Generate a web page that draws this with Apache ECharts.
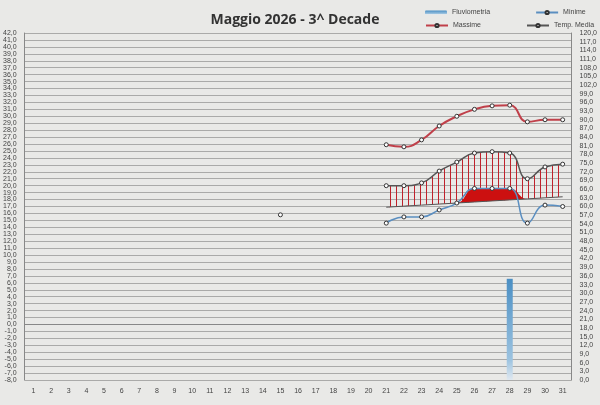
<!DOCTYPE html><html><head><meta charset="utf-8">
<script src="https://cdn.jsdelivr.net/npm/echarts@6/dist/echarts.min.js"></script>
<style>html,body{margin:0;background:#e9e9e7}#c{width:600px;height:405px}</style></head><body><div id="c"></div>
<script>
const days = Array.from({length:31},(_,i)=>String(i+1));
const N=null;
const massime = [N,N,N,N,N,N,N,N,N,N,N,N,N,N,N,N,N,N,N,N,25.9,25.6,26.6,28.6,30.0,31.0,31.5,31.6,29.2,29.5,29.5];
const media   = [N,N,N,N,N,N,N,N,N,N,N,N,N,N,15.8,N,N,N,N,N,20.0,20.0,20.4,22.1,23.4,24.7,24.9,24.7,21.0,22.7,23.1];
const minime  = [N,N,N,N,N,N,N,N,N,N,N,N,N,N,N,N,N,N,N,N,14.6,15.5,15.5,16.5,17.5,19.6,19.6,19.6,14.6,17.2,17.0];
const baseline= [N,N,N,N,N,N,N,N,N,N,N,N,N,N,N,N,N,N,N,N,16.9,17.05,17.2,17.35,17.5,17.65,17.8,17.95,18.1,18.25,18.4];
const pioggia = [N,N,N,N,N,N,N,N,N,N,N,N,N,N,N,N,N,N,N,N,N,N,N,N,N,N,N,35,N,N,N];
const hatch = media.map((v,i)=> i>=20 && v!=null && baseline[i]!=null ? +(v-baseline[i]).toFixed(2) : N);
const redFill = minime.map((v,i)=> baseline[i]!=null ? Math.max(0,+(v-baseline[i]).toFixed(2)) : N);
const cv = document.createElement('canvas'); cv.width=6; cv.height=2;
const cx = cv.getContext('2d'); cx.fillStyle='#c0202a'; cx.fillRect(0,0,1,2);
const mk = {symbol:'circle',symbolSize:4,itemStyle:{color:'#fff',borderColor:'#333',borderWidth:1}};
const lg = {itemGap:45,itemWidth:22,itemHeight:4,textStyle:{fontSize:7,color:'#444'}};
const chart = echarts.init(document.getElementById('c'));
chart.setOption({
  backgroundColor:'#e9e9e7',
  title:{text:'Maggio 2026 - 3^ Decade',left:290,top:8,textAlign:'center',textStyle:{fontSize:14,fontWeight:'bold',color:'#333',fontFamily:'Open Sans'}},
  legend:[Object.assign({left:420,top:4,data:['Fluviometria','Minime']},lg),
          Object.assign({left:420,top:17,data:['Massime','Temp. Media']},lg)],
  grid:{left:20,right:28,top:33,bottom:25},
  xAxis:{type:'category',data:days,boundaryGap:true,axisLine:{lineStyle:{color:'#888'}},axisTick:{show:false},
    axisLabel:{fontSize:7,color:'#444'},splitLine:{show:false}},
  yAxis:[
    {type:'value',min:-8,max:42,interval:1,position:'left',axisLabel:{fontSize:7,color:'#444',formatter:v=>v.toFixed(1).replace('.',',')},
     axisLine:{show:true,lineStyle:{color:'#888'}},splitLine:{lineStyle:{color:'#999',width:0.8}}},
    {type:'value',min:0,max:120,interval:3,position:'right',axisLabel:{fontSize:7,color:'#444',formatter:v=>v.toFixed(1).replace('.',',')},
     axisLine:{show:true,lineStyle:{color:'#888'}},splitLine:{show:false}}
  ],
  series:[
    {name:'Fluviometria',type:'bar',yAxisIndex:1,data:pioggia,barWidth:6,
     itemStyle:{color:new echarts.graphic.LinearGradient(0,0,0,1,[{offset:0,color:'#4a8fc4'},{offset:0.8,color:'#9cc3e0'},{offset:1,color:'#e0e8f0'}])}},
    {name:'base1',type:'line',stack:'h',data:baseline,symbol:'none',lineStyle:{color:'#555',width:1},silent:true},
    {name:'hatch',type:'line',stack:'h',data:hatch,smooth:true,symbol:'none',lineStyle:{width:0},silent:true,
     areaStyle:{color:{image:cv,repeat:'repeat'},opacity:1}},
    {name:'base2',type:'line',stack:'r',data:baseline,symbol:'none',lineStyle:{width:0},silent:true},
    {name:'red',type:'line',stack:'r',data:redFill,smooth:true,symbol:'none',lineStyle:{width:0},silent:true,areaStyle:{color:'#cc1010',opacity:1}},
    Object.assign({name:'Minime',type:'line',data:minime,smooth:true,lineStyle:{color:'#5a8ec0',width:1.5}},mk),
    Object.assign({name:'Massime',type:'line',data:massime,smooth:true,lineStyle:{color:'#c0404a',width:2}},mk),
    Object.assign({name:'Temp. Media',type:'line',data:media,smooth:true,lineStyle:{color:'#555',width:1.5}},mk)
  ]
});
</script></body></html>
